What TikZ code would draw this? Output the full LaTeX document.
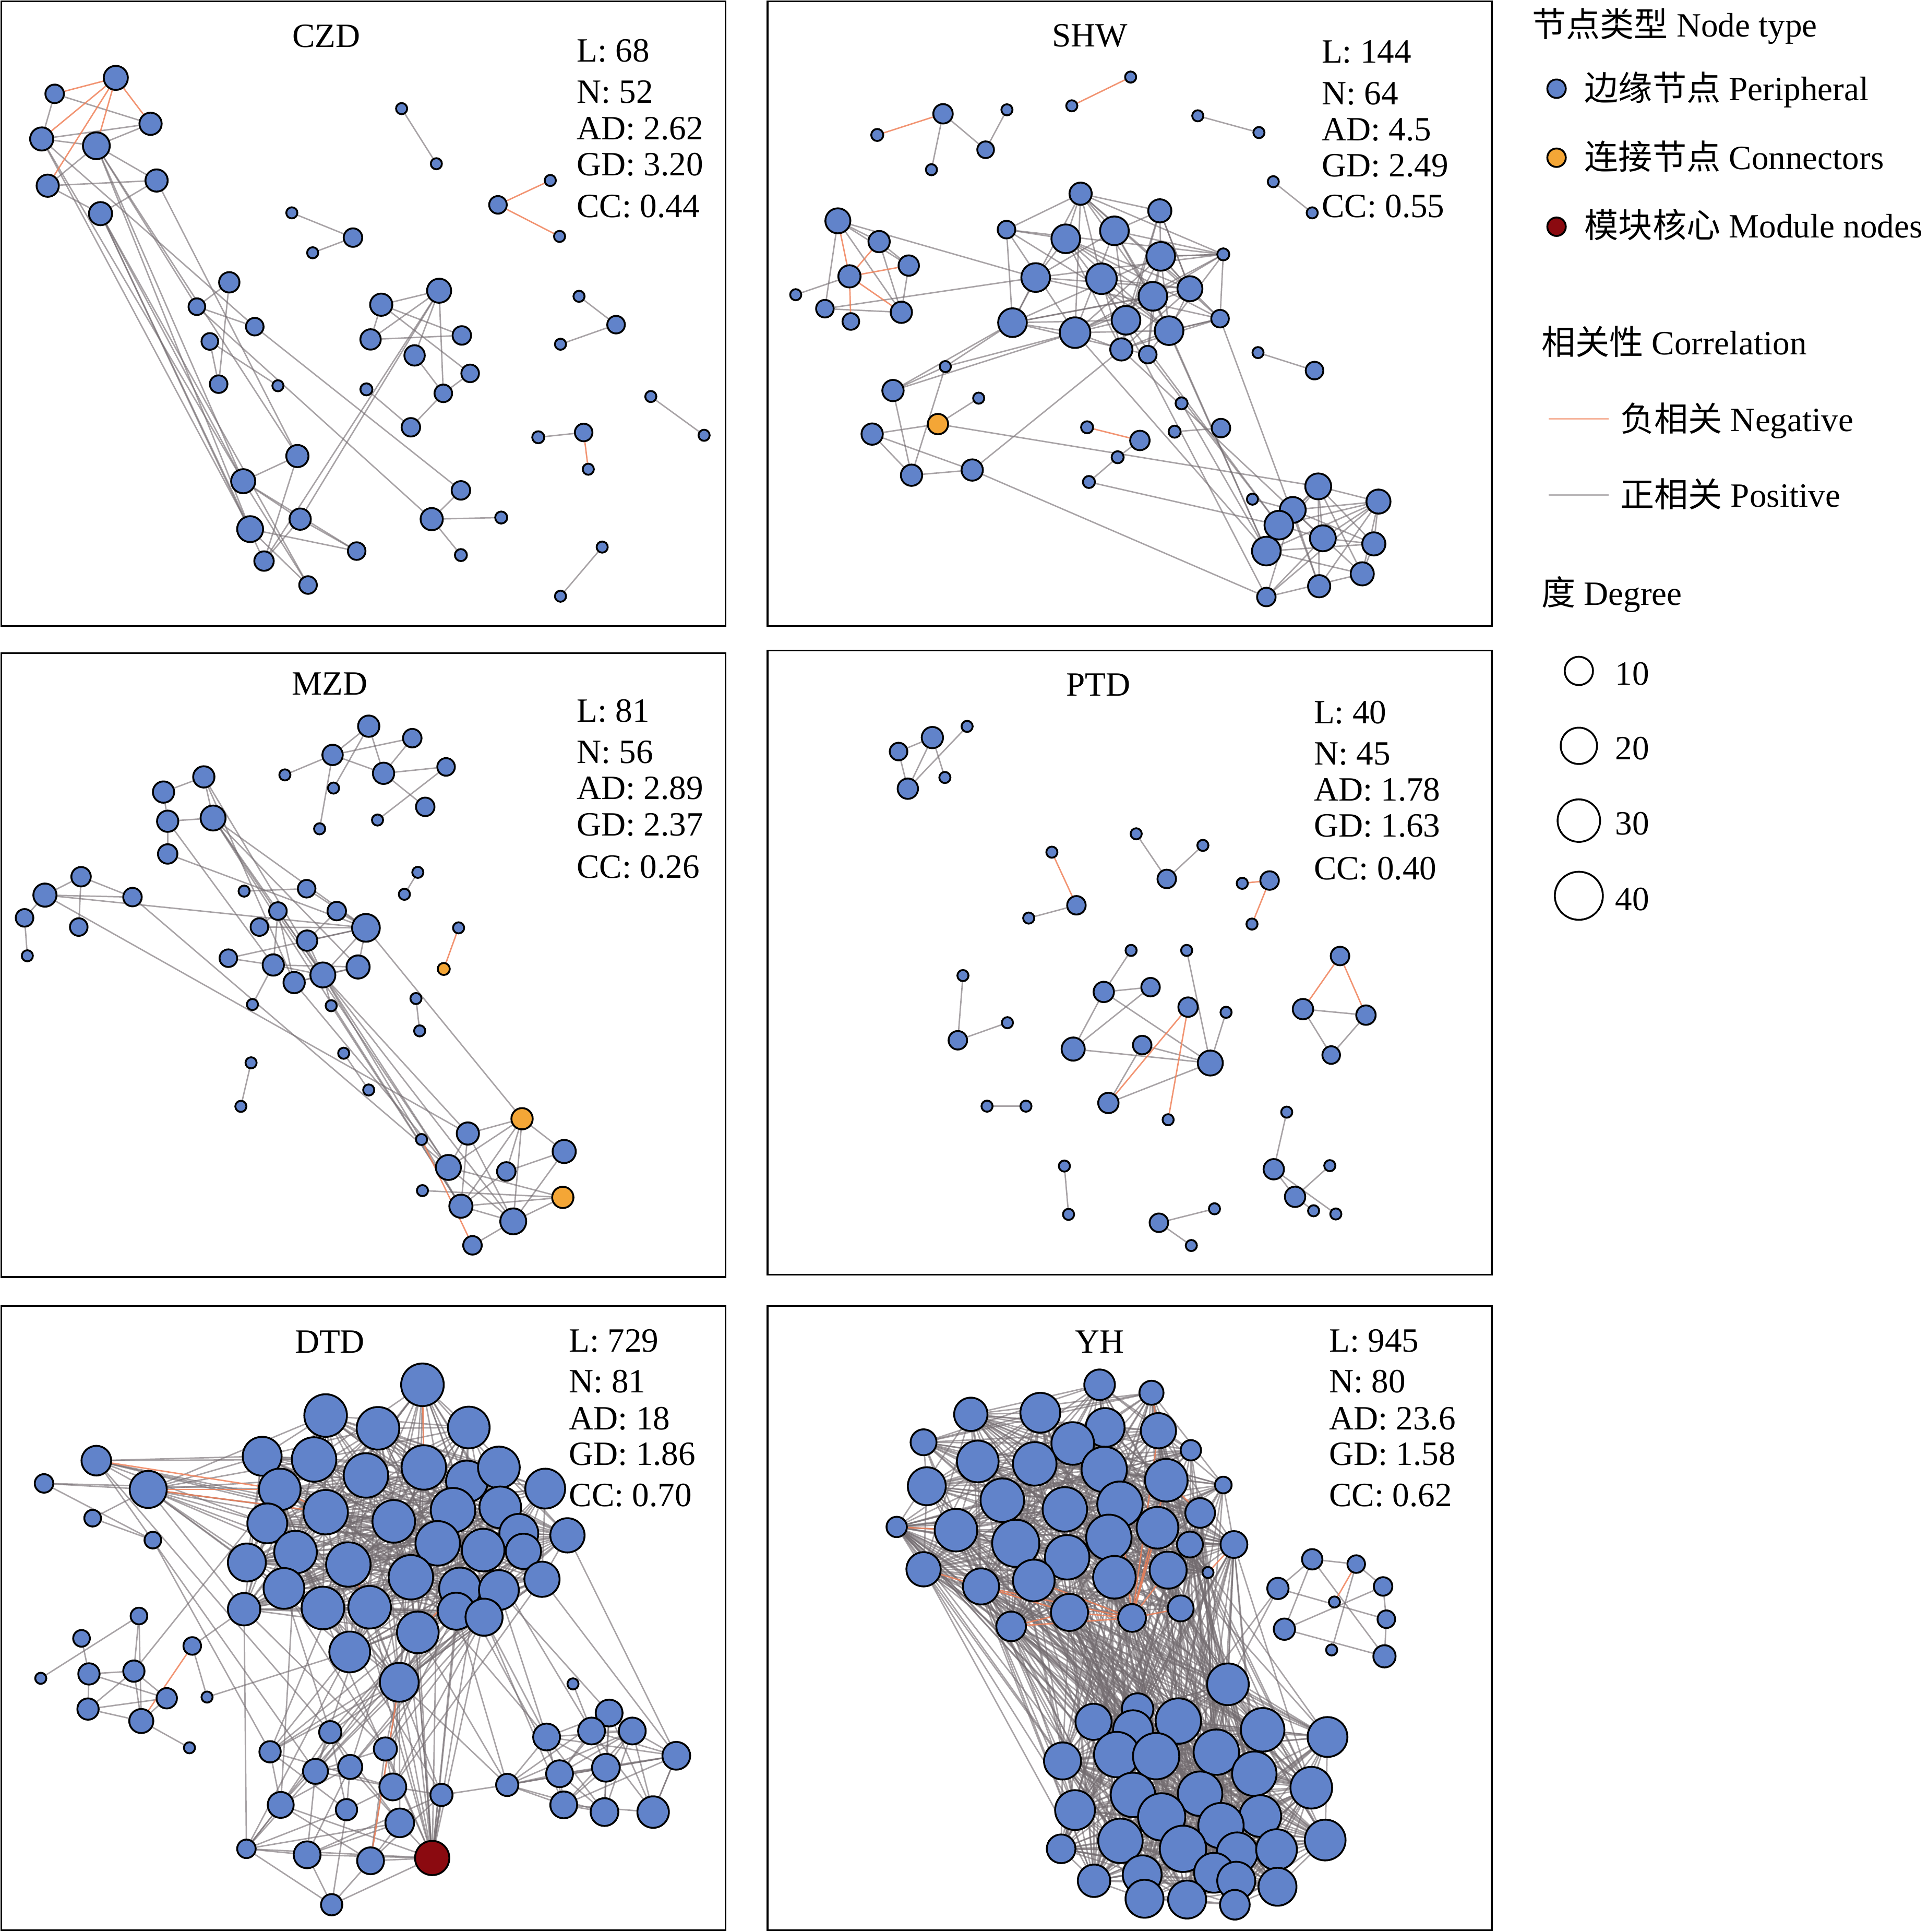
\documentclass[tikz,border=0pt]{standalone}
\usepackage{fontspec}
\setmainfont{Liberation Serif}
\newfontfamily\cjk{Noto Sans CJK SC}
\pgfdeclarelayer{bg}
\pgfsetlayers{bg,main}
\definecolor{nodeblue}{RGB}{97,131,202}
\definecolor{conn}{RGB}{244,166,54}
\definecolor{modred}{RGB}{139,10,16}
\definecolor{edgepos}{RGB}{115,108,112}
\definecolor{edgeneg}{RGB}{240,130,90}
\tikzset{
  nb/.style={circle, draw=black, line width=1.5pt, fill=nodeblue, inner sep=0pt, minimum size=0.376pt*#1},
  no/.style={nb=#1, fill=conn},
  nr/.style={nb=#1, fill=modred},
  pe/.style={line width=1.15pt, draw=edgepos, draw opacity=0.62},
  ne/.style={line width=1.15pt, draw=edgeneg, draw opacity=0.85},
  lab/.style={font=\fontsize{27.6}{32}\selectfont, inner sep=0pt},
  frame/.style={draw=black, line width=1.5pt},
  degc/.style={circle, draw=black, line width=1.5pt, inner sep=0pt, minimum size=#1},
  legdot/.style={circle, draw=black, line width=1.5pt, inner sep=0pt, minimum size=15pt, fill=#1}
}
\newcommand\randedges[5]{%
  \pgfmathsetseed{#5}%
  \foreach \i in {#2,...,#3}{%
    \foreach \j in {#2,...,#3}{%
      \ifnum\i<\j\relax
        \pgfmathtruncatemacro\myok{rnd<#4}%
        \ifnum\myok=1\relax \draw[pe] (#1\i) -- (#1\j);\fi
      \fi}}}
\newcommand\randbip[7]{%
  \foreach \i in {#2,...,#3}{%
    \foreach \j in {#5,...,#6}{%
      \pgfmathtruncatemacro\myok{rnd<#7}%
      \ifnum\myok=1\relax \draw[pe] (#1\i) -- (#4\j);\fi}}}
\begin{document}
\begin{tikzpicture}[x=1pt,y=-1pt]
\useasboundingbox (0,0) rectangle (1565,1568);
\begin{pgfonlayer}{bg}
\fill[white] (0,0) rectangle (1565,1568);
\end{pgfonlayer}

% ---------------- frames ----------------
\draw[frame] (1,1) rectangle (589,508);
\draw[frame] (623,1) rectangle (1211,508);
\draw[frame] (1,530) rectangle (589,1036.5);
\draw[frame] (623,528) rectangle (1211,1034.5);
\draw[frame] (1,1060) rectangle (589,1566.5);
\draw[frame] (623,1060) rectangle (1211,1566.5);

% ---------------- CZD ----------------
\begin{scope}[shift={(0pt,0pt)}, x=0.376pt, y=-0.3241pt]
\foreach \n/\x/\y/\s in {C1/250/195/52, C2/118/235/40, C3/325/310/48, C4/90/348/50, C5/208/365/58,
  C6/103/465/48, C7/338/452/48, C8/217/535/50, C9/495/707/44, C10/425/768/36, C11/550/818/38,
  C12/453/855/36, C13/472/962/38, C14/600/966/24, C15/642/1142/48, C16/525/1205/52, C17/540/1325/56,
  C18/648/1300/46, C19/570/1405/42, C20/770/1380/38, C21/665/1465/38, C22/948/728/52, C23/823/763/48,
  C24/800/850/44, C25/997/840/40, C26/895/890/44, C27/1015/935/38, C28/957/985/38, C29/887/1070/40,
  C30/791/975/26, C31/932/1300/48, C32/995/1228/40, C33/1082/1296/26, C34/995/1390/26, C35/867/272/24,
  C36/942/410/24, C37/630/533/24, C38/762/595/40, C39/675/633/24, C40/1075/513/38, C41/1188/452/24,
  C42/1208/592/24, C43/1250/742/24, C44/1330/813/38, C45/1210/862/24, C46/1405/993/24, C47/1520/1090/24,
  C48/1162/1095/26, C49/1260/1083/38, C50/1270/1175/24, C51/1300/1370/24, C52/1210/1493/24}
  {\node[nb=\s] (\n) at (\x,\y) {};}
\end{scope}
\node[lab, anchor=base] (tCZD) at (265,38.2) {CZD};
\node[lab, anchor=base west] (c1) at (468,50.2) {L: 68};
\node[lab, anchor=base west] (c2) at (468,83.6) {N: 52};
\node[lab, anchor=base west] (c3) at (468,113.4) {AD: 2.62};
\node[lab, anchor=base west] (c4) at (468,142.6) {GD: 3.20};
\node[lab, anchor=base west] (c5) at (468,176.6) {CC: 0.44};

% ---------------- SHW ----------------
\begin{scope}[shift={(622.6pt,0pt)}, x=0.376pt, y=-0.3241pt]
\foreach \n/\x/\y/\s in {S1/380/285/42, S2/238/338/26, S3/518/275/24, S4/472/375/36, S5/355/425/24,
  S6/658/265/24, S7/785/193/24, S8/930/290/24, S9/1062/332/24, S10/1093/455/24, S11/1177/533/24,
  S12/153/553/54, S13/242/605/46, S14/306/665/44, S15/178/692/48, S16/62/738/24, S17/125/773/38,
  S18/181/805/36, S19/290/782/46, S20/677/485/48, S21/848/528/50, S22/517/575/38, S23/645/598/62,
  S24/750/578/62, S25/850/642/62, S26/580/695/62, S27/722/698/66, S28/833/742/62, S29/913/723/54,
  S30/985/637/26, S31/530/808/62, S32/665/833/66, S33/775/802/62, S34/868/828/62, S35/978/798/38,
  S36/765/875/48, S37/822/888/38, S38/1060/883/24, S39/1182/928/38, S40/385/918/24, S41/272/978/46,
  S42/457/997/24, S44/227/1087/46, S45/312/1190/46, S46/443/1177/46, S47/691/1070/26,
  S48/805/1103/42, S49/757/1145/26, S50/695/1207/26, S51/895/1010/26, S52/880/1081/26, S53/980/1072/40,
  S54/1048/1250/24, S55/1190/1218/56, S56/1320/1256/52, S57/1135/1277/56, S58/1105/1315/62,
  S59/1200/1348/56, S60/1310/1362/50, S61/1078/1380/62, S62/1285/1437/50, S63/1192/1468/48, S64/1078/1495/40}
  {\node[nb=\s] (\n) at (\x,\y) {};}
\node[no=44] (S43) at (369,1062) {};
\end{scope}
\node[lab, anchor=base] (tSHW) at (884.7,37.9) {SHW};
\node[lab, anchor=base west] (s1) at (1072.7,50.9) {L: 144};
\node[lab, anchor=base west] (s2) at (1072.7,84.9) {N: 64};
\node[lab, anchor=base west] (s3) at (1072.7,114) {AD: 4.5};
\node[lab, anchor=base west] (s4) at (1072.7,143.2) {GD: 2.49};
\node[lab, anchor=base west] (s5) at (1072.7,176.6) {CC: 0.55};

% ---------------- MZD ----------------
\begin{scope}[shift={(0pt,-529.4pt)}, x=0.376pt, y=-0.3241pt]
\foreach \n/\x/\y/\s in {M1/796/185/46, M2/890/215/40, M3/718/257/44, M4/615/307/24, M5/828/303/46,
  M6/963/287/38, M7/720/340/24, M8/918/387/40, M9/690/442/24, M10/815/420/24, M11/440/312/46,
  M12/353/350/46, M13/460/415/54, M14/362/423/46, M15/362/505/42, M16/175/562/42, M17/97/608/50,
  M18/286/613/40, M19/53/665/38, M20/170/688/38, M21/59/760/24, M22/527/598/24, M23/662/592/38,
  M24/600/648/38, M25/727/648/40, M26/560/688/38, M27/790/690/60, M28/663/722/44, M29/493/766/38,
  M30/590/783/46, M31/697/808/54, M32/773/788/50, M33/635/827/46, M34/545/882/24, M35/715/885/24,
  M36/902/551/24, M37/873/606/24, M38/990/690/24, M40/898/867/24, M41/906/948/24,
  M42/742/1004/24, M43/796/1096/24, M44/542/1028/24, M45/520/1137/24, M47/1010/1205/48,
  M48/1218/1250/50, M49/968/1290/54, M50/1093/1300/40, M51/910/1220/24, M52/912/1348/24,
  M54/995/1387/50, M55/1108/1425/56, M56/1020/1485/40}
  {\node[nb=\s] (\n) at (\x,\y) {};}
\node[no=26] (M39) at (958,793) {};
\node[no=46] (M46) at (1127,1168) {};
\node[no=46] (M53) at (1215,1365) {};
\end{scope}
\node[lab, anchor=base] (tMZD) at (267.7,564.1) {MZD};
\node[lab, anchor=base west] (m1) at (468,586.1) {L: 81};
\node[lab, anchor=base west] (m2) at (468,619.5) {N: 56};
\node[lab, anchor=base west] (m3) at (468,648.7) {AD: 2.89};
\node[lab, anchor=base west] (m4) at (468,678.5) {GD: 2.37};
\node[lab, anchor=base west] (m5) at (468,712.5) {CC: 0.26};

% ---------------- PTD ----------------
\begin{scope}[shift={(622.6pt,-527.3pt)}, x=0.376pt, y=-0.3241pt]
\foreach \n/\x/\y/\s in {P1/357/220/46, P2/284/255/38, P3/432/192/24, P4/304/348/44, P5/384/320/24,
  P6/615/507/24, P7/668/640/40, P8/565/672/24, P9/797/461/24, P10/863/574/40, P11/941/490/24,
  P12/1026/585/24, P13/1085/578/40, P14/1047/687/24, P15/423/816/24, P16/412/978/40, P17/519/934/24,
  P18/786/753/24, P19/906/753/24, P20/727/857/44, P21/828/845/40, P22/909/895/42, P23/991/908/24,
  P24/661/1000/50, P25/810/990/40, P26/957/1035/54, P27/737/1135/44, P28/866/1177/24, P29/1237/767/40,
  P30/1157/900/44, P31/1293/915/42, P32/1218/1015/38, P33/475/1143/24, P34/559/1143/24, P35/642/1293/24,
  P36/651/1414/24, P37/846/1435/40, P38/966/1400/24, P39/916/1492/24, P40/1122/1158/24, P41/1094/1301/44,
  P42/1140/1370/44, P43/1215/1292/24, P44/1228/1413/24, P45/1180/1405/24}
  {\node[nb=\s] (\n) at (\x,\y) {};}
\end{scope}
\node[lab, anchor=base] (tPTD) at (891.4,564.6) {PTD};
\node[lab, anchor=base west] (p1) at (1066.3,587.3) {L: 40};
\node[lab, anchor=base west] (p2) at (1066.3,620.6) {N: 45};
\node[lab, anchor=base west] (p3) at (1066.3,649.8) {AD: 1.78};
\node[lab, anchor=base west] (p4) at (1066.3,679) {GD: 1.63};
\node[lab, anchor=base west] (p5) at (1066.3,713.7) {CC: 0.40};

% ---------------- DTD ----------------
\begin{scope}[shift={(0pt,-1059.7pt)}, x=0.376pt, y=-0.3241pt]
\foreach \n/\x/\y/\s in {D1/912/198/92, D2/703/275/92, D3/816/307/92, D4/1012/305/90, D5/566/377/84,
  D6/678/385/96, D7/790/425/96, D8/915/405/96, D9/1008/440/90, D10/1077/405/90, D11/1177/458/86,
  D12/604/460/90, D13/703/517/96, D14/850/540/92, D15/978/512/96, D16/1080/505/90, D17/577/545/86,
  D18/1120/570/84, D19/1225/575/74, D20/945/595/96, D21/1043/612/92, D22/638/617/92, D23/533/643/82,
  D24/752/648/96, D25/1130/615/76, D26/887/680/96, D27/1170/685/76, D28/613/708/88, D29/993/708/90,
  D30/1077/712/86, D31/697/757/92, D32/798/755/92, D33/527/760/70, D34/985/765/80, D35/1045/780/80,
  D36/902/818/90, D37/755/867/88, D38/862/943/84,
  E1/208/388/64, E2/320/460/80, E3/95/445/40, E4/200/532/36, E5/330/587/36,
  F1/300/777/36, F2/176/833/36, F3/415/852/38, F4/88/933/24, F5/192/922/46, F6/289/915/46,
  F7/360/983/44, F8/447/980/24, F9/190/1010/46, F10/305/1040/52, F11/409/1107/24,
  G1/713/1068/48, G2/583/1117/46, G3/832/1110/50, G4/681/1166/54, G5/756/1155/52, G6/848/1205/58,
  G7/953/1225/48, G8/606/1250/56, G9/748/1262/46, G10/863/1295/62, G11/532/1360/40, G12/663/1375/58,
  G13/800/1390/58, G15/716/1500/46,
  H1/1237/947/24, H2/1315/1020/58, H3/1180/1080/58, H4/1277/1065/58, H5/1365/1065/58, H6/1460/1127/60,
  H7/1208/1172/58, H8/1308/1157/60, H9/1095/1200/48, H10/1217/1250/58, H11/1305/1268/60, H12/1410/1268/68}
  {\node[nb=\s] (\n) at (\x,\y) {};}
\node[nr=74] (G14) at (933,1383) {};
\end{scope}
\node[lab, anchor=base] (tDTD) at (267.7,1097.9) {DTD};
\node[lab, anchor=base west] (d1) at (461.7,1097) {L: 729};
\node[lab, anchor=base west] (d2) at (461.7,1130.3) {N: 81};
\node[lab, anchor=base west] (d3) at (461.7,1160.2) {AD: 18};
\node[lab, anchor=base west] (d4) at (461.7,1189.3) {GD: 1.86};
\node[lab, anchor=base west] (d5) at (461.7,1222.4) {CC: 0.70};

% ---------------- YH ----------------
\begin{scope}[shift={(622.6pt,-1059.7pt)}, x=0.376pt, y=-0.3241pt]
\foreach \n/\x/\y/\s in {Y1/718/198/66, Y2/830/218/52, Y3/440/272/72, Y4/590/268/86, Y5/730/305/84,
  Y6/845/313/76, Y7/338/342/56, Y8/660/345/92, Y9/455/390/90, Y10/578/396/94, Y11/915/362/44,
  Y12/728/410/98, Y13/862/437/92, Y14/985/449/36, Y15/345/452/82, Y16/508/487/94, Y17/643/510/96,
  Y18/762/497/98, Y19/935/519/64, Y20/280/554/44, Y21/408/562/92, Y22/537/595/102, Y23/738/580/98,
  Y24/843/556/90, Y25/913/598/56, Y26/1008/598/58, Y27/648/630/96, Y28/338/660/74, Y29/866/662/80,
  Y30/952/668/24, Y31/462/703/78, Y32/576/688/90, Y33/750/680/92, Y34/653/768/80, Y35/893/758/56,
  Y36/527/803/64, Y37/788/782/60,
  Z1/1177/635/44, Z2/1272/647/38, Z3/1103/708/46, Z4/1330/703/40, Z5/1225/742/24, Z6/1337/785/38,
  Z7/1117/810/46, Z8/1219/862/24, Z9/1333/878/48,
  W1/995/948/90, W2/800/1010/68, W3/705/1042/78, W4/888/1040/98, W5/790/1063/86, W6/1070/1062/94,
  W7/1210/1080/86, W8/638/1140/80, W9/755/1124/98, W10/840/1128/100, W11/970/1118/98, W12/1052/1172/96,
  W13/1175/1207/90, W14/790/1225/96, W15/935/1222/96, W16/665/1263/86, W17/852/1280/102,
  W18/1065/1278/90, W19/980/1302/98, W20/763/1340/96, W21/898/1360/100, W22/1205/1338/88,
  W23/1015/1370/88, W24/1100/1362/88, W25/635/1360/62, W26/810/1425/84, W27/965/1420/86,
  W28/1013/1440/82, W29/706/1440/70, W30/1102/1455/82, W31/815/1485/82, W32/907/1487/82, W33/1010/1500/64}
  {\node[nb=\s] (\n) at (\x,\y) {};}
\end{scope}
\node[lab, anchor=base] (tYH) at (892.6,1097.9) {YH};
\node[lab, anchor=base west] (y1) at (1078.7,1097) {L: 945};
\node[lab, anchor=base west] (y2) at (1078.7,1130.3) {N: 80};
\node[lab, anchor=base west] (y3) at (1078.7,1160.2) {AD: 23.6};
\node[lab, anchor=base west] (y4) at (1078.7,1189.3) {GD: 1.58};
\node[lab, anchor=base west] (y5) at (1078.7,1222.4) {CC: 0.62};

% ---------------- legend ----------------
\node[lab, anchor=base west] (lg0) at (1243.5,30) {{\cjk 节点类型} Node type};
\node[legdot=nodeblue] (lgp) at (1263.5,72) {};
\node[lab, anchor=base west] (lgpt) at (1286,81.7) {{\cjk 边缘节点} Peripheral};
\node[legdot=conn] (lgc) at (1263.5,128) {};
\node[lab, anchor=base west] (lgct) at (1286,137.6) {{\cjk 连接节点} Connectors};
\node[legdot=modred] (lgm) at (1263.5,184) {};
\node[lab, anchor=base west] (lgmt) at (1286,193) {{\cjk 模块核心} Module nodes};
\node[lab, anchor=base west] (lgr) at (1251,287.8) {{\cjk 相关性} Correlation};
\coordinate (ln1) at (1257,340);
\coordinate (ln2) at (1306,340);
\coordinate (lp1) at (1257,401.6);
\coordinate (lp2) at (1306,401.6);
\draw[ne, draw opacity=0.6] (ln1) -- (ln2);
\draw[pe, draw opacity=0.5] (lp1) -- (lp2);
\node[lab, anchor=base west] (lgnt) at (1315,350) {{\cjk 负相关} Negative};
\node[lab, anchor=base west] (lgpt2) at (1315,411.3) {{\cjk 正相关} Positive};
\node[lab, anchor=base west] (lgd) at (1251,491) {{\cjk 度} Degree};
\node[degc=23pt] (dg1) at (1281.6,544.5) {};
\node[degc=29.5pt] (dg2) at (1281.6,605.3) {};
\node[degc=34.5pt] (dg3) at (1281.6,666) {};
\node[degc=39pt] (dg4) at (1281.6,727) {};
\node[lab, anchor=base west] (dgt1) at (1311,555.7) {10};
\node[lab, anchor=base west] (dgt2) at (1311,616.5) {20};
\node[lab, anchor=base west] (dgt3) at (1311,677.3) {30};
\node[lab, anchor=base west] (dgt4) at (1311,739) {40};

% ================= EDGES (background) =================
\begin{pgfonlayer}{bg}
% CZD
\foreach \a/\b in {C2/C4, C2/C3, C4/C3, C4/C5, C5/C3, C6/C7, C6/C5, C6/C8, C8/C7, C5/C7, C5/C16, C5/C17,
  C5/C15, C5/C10, C8/C16, C8/C17, C8/C19, C8/C21, C4/C11, C4/C17, C7/C15, C9/C10, C9/C13, C10/C11,
  C12/C13, C12/C14, C11/C32, C10/C31, C15/C16, C16/C18, C16/C20, C17/C20, C18/C20, C17/C21, C15/C19,
  C18/C19, C16/C21, C22/C23, C22/C24, C23/C24, C24/C25, C23/C25, C22/C26, C22/C28, C23/C27, C26/C28,
  C28/C27, C28/C29, C30/C29, C22/C18, C22/C19, C31/C32, C31/C33, C31/C34, C35/C36, C37/C38, C38/C39,
  C43/C44, C44/C45, C46/C47, C48/C49, C51/C52, C4/C16}
  {\draw[pe] (\a) -- (\b);}
\foreach \a/\b in {C1/C2, C1/C4, C1/C6, C1/C5, C1/C3, C40/C41, C40/C42, C49/C50}
  {\draw[ne] (\a) -- (\b);}
% SHW
\randedges{S}{20}{37}{0.4}{31}
\randedges{S}{55}{64}{0.7}{32}
\foreach \a/\b in {S1/S4, S4/S3, S1/S5, S8/S9, S10/S11, S12/S13, S12/S14, S12/S19, S12/S17, S13/S19,
  S13/S14, S14/S19, S15/S16, S17/S19, S17/S26, S12/S26, S20/S21, S22/S23, S30/S25, S35/S34, S38/S39,
  S41/S40, S41/S31, S41/S32, S40/S31, S40/S32, S43/S42, S43/S44, S44/S45, S44/S46, S45/S46, S41/S45,
  S40/S45, S46/S36, S43/S55, S46/S64, S48/S49, S49/S50, S50/S58, S52/S53, S32/S61, S33/S58, S34/S61,
  S36/S57, S37/S58, S28/S61, S51/S61, S27/S64, S35/S63, S54/S57, S29/S25, S21/S29}
  {\draw[pe] (\a) -- (\b);}
\foreach \a/\b in {S1/S2, S6/S7, S12/S15, S13/S15, S15/S14, S15/S19, S15/S18, S47/S48}
  {\draw[ne] (\a) -- (\b);}
% MZD
\foreach \a/\b in {M1/M3, M1/M5, M1/M7, M3/M2, M3/M4, M3/M5, M2/M5, M5/M6, M5/M8, M6/M10, M3/M9,
  M11/M12, M12/M14, M14/M13, M14/M15, M11/M31, M11/M33, M13/M27, M13/M31, M13/M32, M14/M30,
  M15/M27, M13/M54, M13/M49, M16/M17, M16/M20, M16/M18, M17/M19, M19/M21, M17/M18, M17/M27, M17/M47,
  M18/M49, M22/M23, M24/M26, M24/M30, M25/M27, M23/M27, M26/M27, M28/M27, M29/M27, M29/M30, M30/M31,
  M31/M27, M32/M27, M31/M32, M33/M32, M33/M31, M24/M31, M30/M32, M28/M31, M24/M33, M30/M34, M25/M28,
  M31/M35, M36/M37, M40/M41, M42/M43, M44/M45, M46/M47, M46/M49, M46/M50, M46/M54, M46/M55, M46/M48,
  M47/M49, M47/M54, M47/M55, M49/M53, M49/M55, M50/M48, M50/M54, M48/M55, M53/M54, M53/M55, M54/M55,
  M55/M56, M52/M53, M27/M46, M31/M49, M31/M54, M31/M55, M33/M49, M35/M54, M31/M47, M11/M13}
  {\draw[pe] (\a) -- (\b);}
\foreach \a/\b in {M38/M39, M51/M56}
  {\draw[ne] (\a) -- (\b);}
% PTD
\foreach \a/\b in {P1/P2, P1/P4, P2/P4, P3/P4, P1/P5, P7/P8, P9/P10, P10/P11, P15/P16, P16/P17,
  P18/P20, P20/P21, P20/P24, P20/P26, P21/P24, P24/P26, P25/P26, P25/P27, P27/P26, P19/P26, P23/P26,
  P30/P31, P30/P32, P31/P32, P33/P34, P35/P36, P37/P38, P37/P39, P40/P41, P41/P42, P42/P43, P41/P44,
  P42/P45}
  {\draw[pe] (\a) -- (\b);}
\foreach \a/\b in {P6/P7, P12/P13, P13/P14, P22/P27, P22/P28, P29/P30, P29/P31}
  {\draw[ne] (\a) -- (\b);}
% DTD
\randedges{D}{1}{38}{0.5}{11}
\randedges{G}{1}{15}{0.35}{5}
\randedges{H}{2}{12}{0.6}{9}
\pgfmathsetseed{17}
\randbip{G}{1}{15}{D}{22}{38}{0.14}
\foreach \a/\b in {E1/E2, E3/E2, E4/E5, E4/E2, E1/D5, E1/D6, E1/D13, E1/D17, E1/D14, E1/D20, E2/D5,
  E2/D6, E2/D13, E2/D17, E2/D22, E2/D23, E2/D28, E2/D33, E2/D7, E2/D14, E2/D24, E2/D2, E2/D31, E2/D20,
  E1/G4, E1/G1, E5/G2, E3/D12, E3/E5,
  F1/F6, F2/F5, F4/F1, F5/F6, F5/F9, F5/F7, F6/F7, F6/F10, F9/F10, F9/F6, F3/F8, F7/F10, F10/F11, F9/F7,
  F8/D37, F3/D33, F6/D12, F1/F10,
  G14/G15, G13/G15, G12/G15, G13/G14, G10/G14, G14/G7, G11/G8, G11/G4,
  G14/D38, G14/D36, G14/D26, G14/D29, G14/D34, G14/D35, G14/D20, G14/D21, G14/D24, G14/D14, G14/D32,
  H1/H4, H6/D27, H6/D19, H3/D35, H3/D30, H9/D34, H9/D36, H7/D29, H10/D35, H2/D30, H4/D21, H3/D26,
  H9/G7, H9/D38, H6/H12, H6/H8}
  {\draw[pe] (\a) -- (\b);}
\foreach \a/\b in {E1/D12, E2/D12, E2/D13, F3/F10, G13/D38, D1/D8, D9/D15, D22/D28, D24/D32, D29/D36,
  D20/D21, D12/D13}
  {\draw[ne] (\a) -- (\b);}
% YH
\randedges{Y}{1}{37}{0.55}{21}
\randedges{W}{1}{33}{0.6}{22}
\pgfmathsetseed{23}
\randbip{Y}{17}{37}{W}{1}{33}{0.3}
\randbip{Y}{1}{16}{W}{1}{33}{0.06}
\foreach \a/\b in {Z1/Z3, Z1/Z2, Z1/Z7, Z2/Z4, Z2/Z8, Z3/Z6, Z7/Z4, Z7/Z9, Z4/Z6, Z6/Z9, Z3/W1, Z3/W4, Z1/Z9}
  {\draw[pe] (\a) -- (\b);}
\foreach \a/\b in {Y37/Y36, Y37/Y34, Y37/Y32, Y37/Y31, Y37/Y29, Y37/Y24, Y37/Y13, Y37/Y35, Y37/Y18,
  Y37/Y6, Y28/Y31, Y20/Y21, Y26/Y30, Y2/Y6, Y36/Y34, Y31/Y34, Y19/Y13, Y25/Y29, Z2/Z5}
  {\draw[ne] (\a) -- (\b);}
\end{pgfonlayer}
\end{tikzpicture}
\end{document}
